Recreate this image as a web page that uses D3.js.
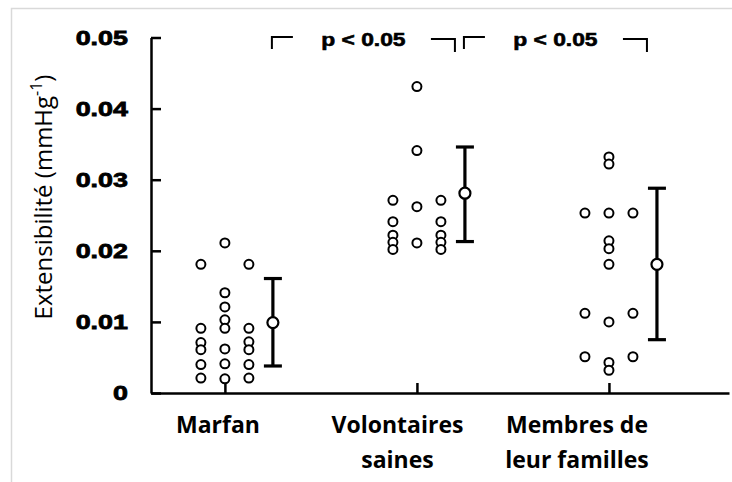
<!DOCTYPE html>
<html>
<head>
<meta charset="utf-8">
<script src="https://cdn.jsdelivr.net/npm/d3@7"></script>
<style>
  body { margin: 0; background: #fff; }
  svg { display: block; }
</style>
</head>
<body>
<svg id="svg" width="732" height="482"></svg>
<script>
// groups on the x axis
const categories = ['Marfan', 'Volontaires saines', 'Membres de leur familles']
const labelLines = [['Marfan'], ['Volontaires', 'saines'], ['Membres de', 'leur familles']]

// individual values, per group: [left column, centre column, right column]
const marfanDots = [
  [0.0181, 0.0091, 0.0071, 0.0061, 0.0040, 0.0021],
  [0.0211, 0.0141, 0.0121, 0.0103, 0.0091, 0.0062, 0.0041, 0.0020],
  [0.0181, 0.0091, 0.0072, 0.0061, 0.0040, 0.0021]
]
const volontairesDots = [
  [0.0271, 0.0241, 0.0222, 0.0212, 0.0202],
  [0.0431, 0.0341, 0.0262, 0.0211],
  [0.0271, 0.0241, 0.0222, 0.0212, 0.0202]
]
const membresDots = [
  [0.0253, 0.0112, 0.0051],
  [0.0332, 0.0322, 0.0253, 0.0214, 0.0203, 0.0181, 0.0100, 0.0043, 0.0032],
  [0.0253, 0.0112, 0.0051]
]

// mean and error bar per group
const means = [0.0099, 0.0281, 0.0181]
const errLow = [0.0038, 0.0213, 0.0075]
const errHigh = [0.0161, 0.0346, 0.0288]

const yTicks = [0, 0.01, 0.02, 0.03, 0.04, 0.05]
const pLabel = 'p < 0.05'

const svg = d3.select('#svg')

// light frame around the picture
svg.append('path')
  .attr('d', 'M11.5,482 V8.5 H732')
  .attr('fill', 'none')
  .attr('stroke', '#d9d9d9')
  .attr('stroke-width', 1.5)

const x = d3.scalePoint()
  .domain(categories)
  .range([151, 729])
  .padding(0.505)
  .align(0.381)

const labelX = d3.scalePoint()
  .domain(categories)
  .range([218, 577])

const y = d3.scaleLinear()
  .domain([0, 0.05])
  .range([393, 37.5])

// column offsets within a group
const colOffset = [-24, 0, 24]
const barOffset = 48

// y axis
const yAxis = svg.append('g')
  .attr('transform', 'translate(151,0)')
  .call(d3.axisLeft(y).tickValues(yTicks).tickSizeInner(-10).tickSizeOuter(0).tickPadding(18)
    .tickFormat(d => d === 0 ? '0' : d3.format('.2f')(d)))
yAxis.selectAll('path, line').attr('stroke', '#000').attr('stroke-width', 2.5)
yAxis.selectAll('.tick text')
  .attr('fill', '#000')
  .attr('stroke', '#000')
  .attr('stroke-width', 0.8)
  .attr('font-family', 'Liberation Sans, Arial, sans-serif')
  .attr('font-weight', 'bold')
  .attr('font-size', 21)
  .attr('transform', 'scale(1.28,1)')

// x axis
const xAxis = svg.append('g')
  .attr('transform', 'translate(0,393)')
  .call(d3.axisBottom(x).tickSizeInner(-10).tickSizeOuter(0).tickFormat(''))
xAxis.selectAll('path, line').attr('stroke', '#000').attr('stroke-width', 2.5)

// category labels
categories.forEach((c, i) => {
  const t = svg.append('text')
    .attr('x', labelX(c))
    .attr('y', 433)
    .attr('text-anchor', 'middle')
    .attr('font-family', 'Open Sans, sans-serif')
    .attr('font-weight', 700)
    .attr('font-size', 23)
  labelLines[i].forEach((line, j) => {
    t.append('tspan').attr('x', labelX(c)).attr('dy', j === 0 ? 0 : 35).text(line)
  })
})

// y axis title
const title = svg.append('text')
  .attr('transform', 'translate(52,197) rotate(-90)')
  .attr('text-anchor', 'middle')
  .attr('font-family', 'Open Sans, sans-serif')
  .attr('font-size', 24)
title.append('tspan').text('Extensibilité (mmHg')
title.append('tspan').attr('font-size', 16).attr('dy', -10).text('-1')
title.append('tspan').attr('dy', 10).text(')')

// dots
const groups = [marfanDots, volontairesDots, membresDots]
const dots = []
groups.forEach((cols, gi) => {
  cols.forEach((vals, ci) => {
    vals.forEach(v => dots.push({ cat: categories[gi], col: ci, value: v }))
  })
})

svg.append('g')
  .selectAll('circle')
  .data(dots)
  .join('circle')
  .attr('cx', d => x(d.cat) + colOffset[d.col])
  .attr('cy', d => y(d.value))
  .attr('r', 4.5)
  .attr('fill', '#fff')
  .attr('stroke', '#000')
  .attr('stroke-width', 2)

// error bars
const bars = svg.append('g')
categories.forEach((c, i) => {
  const bx = x(c) + barOffset
  bars.append('line').attr('x1', bx).attr('x2', bx)
    .attr('y1', y(errLow[i])).attr('y2', y(errHigh[i]))
    .attr('stroke', '#000').attr('stroke-width', 3.2)
  ;[errLow[i], errHigh[i]].forEach(v => {
    bars.append('line').attr('x1', bx - 9).attr('x2', bx + 9)
      .attr('y1', y(v)).attr('y2', y(v))
      .attr('stroke', '#000').attr('stroke-width', 3.2)
  })
  bars.append('circle').attr('cx', bx).attr('cy', y(means[i])).attr('r', 5.5)
    .attr('fill', '#fff').attr('stroke', '#000').attr('stroke-width', 2.2)
})

// significance brackets
const brackets = [
  { from: categories[0], to: categories[1] },
  { from: categories[1], to: categories[2] }
]
brackets.forEach(b => {
  const x0 = x(b.from) + barOffset - 1
  const x1 = x(b.to) + barOffset - 10
  const mid = (x0 + x1) / 2
  const g = svg.append('g').attr('fill', 'none').attr('stroke', '#000').attr('stroke-width', 2)
  g.append('path').attr('d', `M${x0},49 V37 H${x0 + 21}`)
  g.append('path').attr('d', `M${x1 - 24},39 H${x1} V52`)
  svg.append('text')
    .attr('transform', `translate(${mid},46) scale(1.2,1)`)
    .attr('text-anchor', 'middle')
    .attr('font-family', 'Liberation Sans, Arial, sans-serif')
    .attr('font-weight', 'bold')
    .attr('font-size', 19)
    .attr('stroke', '#000')
    .attr('stroke-width', 0.6)
    .text(pLabel)
})
</script>
</body>
</html>
